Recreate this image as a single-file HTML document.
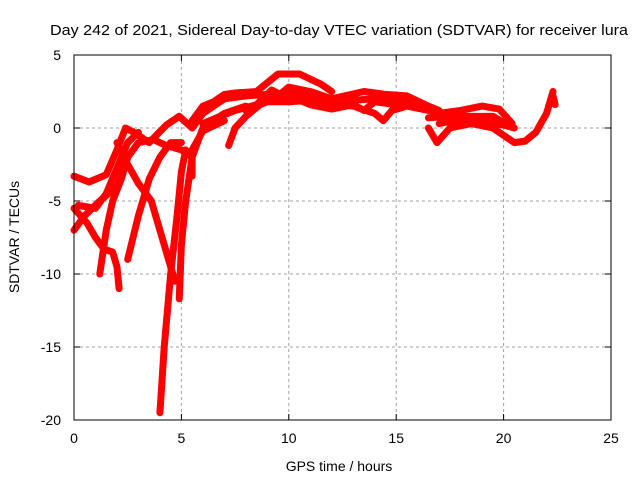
<!DOCTYPE html>
<html><head><meta charset="utf-8"><style>
body{margin:0;background:#fff}
svg{display:block;font-family:"Liberation Sans",sans-serif}
</style></head><body>
<svg id="c" width="640" height="480">
<text x="339" y="35" font-size="15" text-anchor="middle" textLength="578" lengthAdjust="spacingAndGlyphs">Day 242 of 2021, Sidereal Day-to-day VTEC variation (SDTVAR) for receiver lura</text>
<text x="339" y="471" font-size="14" text-anchor="middle">GPS time / hours</text>
<text transform="translate(19,237) rotate(-90)" font-size="14" text-anchor="middle">SDTVAR / TECUs</text>
<g id="grid"></g><g id="series"></g><g id="axes"></g>
</svg>
<script>
const xTicks=[0,5,10,15,20,25];
const yTicks=[5,0,-5,-10,-15,-20];
const trackA=[[0,-3.3],[0.7,-3.7],[1.5,-3.2],[2,-1.5],[2.4,0],[2.8,-0.3],[3.5,-1],[4.3,0.2],[4.9,0.8],[5.5,0],[6,1],[7,2],[8,2.2],[9,2.3]];
const trackB=[[0,-5.5],[0.6,-6.5],[1,-7.5],[1.4,-8.3],[1.8,-8.5],[2,-9.5],[2.1,-11]];
const trackC=[[0,-7],[0.5,-6],[1.2,-5],[2,-4],[2.5,-2],[3,-1],[3.7,-0.8],[4.3,-1.2],[5,-1.5],[5.5,-2]];
const trackD=[[0.2,-5.3],[1,-5.5],[1.5,-4.5],[2.5,-1],[3,-0.3]];
const trackE=[[2,-1],[2.5,-2.5],[3,-3.8],[3.6,-5],[4,-7],[4.4,-9],[4.7,-10.5]];
const trackF=[[1.2,-10],[1.5,-7],[1.8,-5],[2.2,-3.5],[2.5,-2]];
const trackG=[[2.5,-9],[3,-6],[3.5,-3.5],[4,-2],[4.5,-1],[5,-1]];
const trackH=[[4,-19.5],[4.2,-15],[4.5,-10],[4.8,-6],[5,-3],[5.2,-1.5]];
const trackI=[[4.9,-11.7],[5,-8],[5.2,-5],[5.5,-2],[6,0],[7,1],[8,1.5]];
const trackJ=[[5.5,-3.3],[5.5,-1.5],[6,-0.2],[7,0.5]];
const trackK=[[5.5,0.5],[6,1.5],[6.5,1.8],[7,2.3],[7.5,2.4],[8.5,2.5],[9.5,3.7],[10.5,3.7],[11.5,3],[12,2.5]];
const trackL=[[7.2,-1.2],[7.5,0],[8,0.8],[9,2],[9.5,2.2],[10,2.8],[11,2.5],[12,2],[13,1.9],[14,2],[15,2],[16,1.5],[17,1],[18,1.2],[19,1.5],[19.8,1.3],[20.4,0.3]];
const trackM=[[8,1.2],[9,1.8],[10,1.8],[11,1.9],[12,1.7],[13,1.5],[14,1],[14.4,0.5],[14.8,1.2],[15.5,1.5],[16.5,1.2]];
const trackN=[[10,2.5],[11,2.2],[12,2],[13.5,2.5],[14.5,2.3],[15.5,2.2],[16.5,1.5],[17,1.2]];
const trackO=[[16.5,0],[16.9,-1],[17.5,0],[18.5,0.3],[19.5,0],[20.5,-1],[21,-0.9],[21.5,-0.3],[22,1],[22.3,2.5]];
const trackP=[[16.5,0.7],[17.5,0.8],[18.5,0.8],[19.5,0.8],[20.2,0.2]];
const trackQ=[[10,2.2],[11,1.6],[12,1.3],[13,1.6],[13.5,1.2],[14,1.8],[15,1.6],[16,1.8],[16.8,1.3]];
const trackR=[[6,0.3],[6.8,0.8],[7.5,1.2],[8.5,1.6],[9.2,2.6],[10,2.0]];
const trackS=[[17,0.3],[18,0.6],[19,0.4],[20,0.2],[20.5,0]];
const trackT=[[22.1,1.5],[22.3,2.2],[22.4,1.6]];
const tracks=[trackA,trackB,trackC,trackD,trackE,trackF,trackG,trackH,trackI,trackJ,trackK,trackL,trackM,trackN,trackO,trackP,trackQ,trackR,trackS,trackT];
const L=74,R=611,T=55,B=420;
const sx=v=>L+(v-0)/(25-0)*(R-L);
const sy=v=>B-(v+20)/(25)*(B-T);
const NS="http://www.w3.org/2000/svg";
const mk=(t,a,p)=>{const e=document.createElementNS(NS,t);for(const k in a)e.setAttribute(k,a[k]);p.appendChild(e);return e;};
const grid=document.getElementById('grid'),axes=document.getElementById('axes'),ser=document.getElementById('series');
xTicks.forEach(v=>{
 if(v>0&&v<25){const g=mk('line',{x1:sx(v),x2:sx(v),y1:T,y2:B,stroke:'#a0a0a0','stroke-dasharray':'3,3'},grid);
 }
 const t=mk('text',{x:sx(v),y:B+23,'font-size':14,'text-anchor':'middle'},axes);t.textContent=v;
 
 mk('line',{x1:sx(v),x2:sx(v),y1:B,y2:B-6,stroke:'#000'},axes);mk('line',{x1:sx(v),x2:sx(v),y1:T,y2:T+6,stroke:'#000'},axes);
});
yTicks.forEach(v=>{
 if(v>-20&&v<5){const g=mk('line',{x1:L,x2:R,y1:sy(v),y2:sy(v),stroke:'#a0a0a0','stroke-dasharray':'3,3'},grid);
 }
 const t=mk('text',{x:L-13,y:sy(v)+5,'font-size':14,'text-anchor':'end'},axes);t.textContent=v;
 
 mk('line',{x1:L,x2:L+6,y1:sy(v),y2:sy(v),stroke:'#000'},axes);mk('line',{x1:R,x2:R-6,y1:sy(v),y2:sy(v),stroke:'#000'},axes);
});
const fr=mk('rect',{x:L,y:T,width:R-L,height:B-T,fill:'none',stroke:'#000'},axes);

tracks.forEach(tr=>{
 const p=mk('polyline',{points:tr.map(d=>sx(d[0])+','+sy(d[1])).join(' '),fill:'none',stroke:'#ff0000','stroke-width':7,'stroke-linejoin':'round','stroke-linecap':'round'},ser);
 
 
});
</script>
</body></html>
